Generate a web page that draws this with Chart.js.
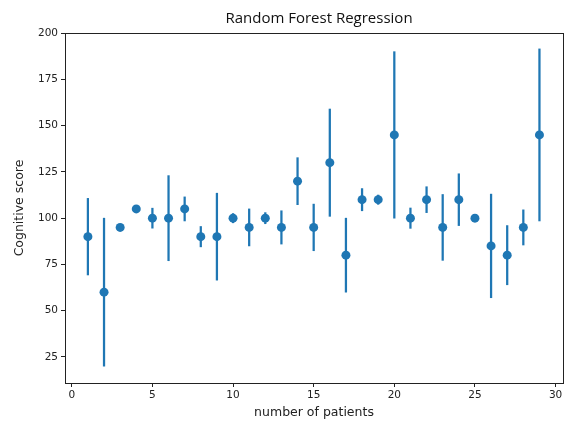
<!DOCTYPE html>
<html>
<head>
<meta charset="utf-8">
<script src="https://cdn.jsdelivr.net/npm/chart.js@4"></script>
<style>
html,body{margin:0;padding:0;background:#fff;}
#wrap{width:568px;height:421px;}
</style>
</head>
<body>
<div id="wrap"><canvas id="c" width="568" height="421"></canvas></div>
<script>
const patients = [1,2,3,4,5,6,7,8,9,10,11,12,13,14,15,16,17,18,19,20,21,22,23,24,25,26,27,28,29];
const scores = [90,60,95,105,100,100,105,90,90,100,95,100,95,120,95,130,80,110,110,145,100,110,95,110,100,85,80,95,145];
const errors = [20.7,40,1,1,5.4,23,6.5,5.5,23.5,2.5,10,3,9,12.7,12.6,29,20,6,2.5,45,5.5,7,17.8,14,0,28,16,9.5,46.5];
const xTicks = [0,5,10,15,20,25,30];
const yTicks = [25,50,75,100,125,150,175,200];
const titleText = 'Random Forest Regression';

const blue = '#1f77b4';
const pointData = patients.map((p,i)=>({x:p, y:scores[i]}));
const errData = patients.map((p,i)=>({x:p, y:[scores[i]-errors[i], scores[i]+errors[i]]}));

const frame = {
  id:'frame',
  afterDatasetsDraw(chart){
    const a = chart.chartArea, ctx = chart.ctx;
    ctx.save();
    ctx.strokeStyle = '#222';
    ctx.lineWidth = 1;
    ctx.strokeRect(Math.round(a.left)+0.5, Math.round(a.top)+0.5, Math.round(a.right-a.left), Math.round(a.bottom-a.top));
    ctx.fillStyle = '#111';
    ctx.font = '15px "Open Sans"';
    ctx.textAlign = 'center';
    ctx.textBaseline = 'middle';
    ctx.fillText(titleText, (a.left + a.right)/2 + 5, 19);
    ctx.restore();
  }
};

new Chart(document.getElementById('c'), {
  type:'bar',
  data:{
    datasets:[
      {type:'scatter', data:pointData, backgroundColor:blue, borderColor:blue, pointRadius:4.5, pointHoverRadius:4.5, borderWidth:0, order:0},
      {type:'bar', data:errData, backgroundColor:blue, borderWidth:0, barThickness:1.6, grouped:false, order:1}
    ]
  },
  plugins:[frame],
  options:{
    responsive:false,
    animation:false,
    devicePixelRatio:1,
    layout:{padding:{left:0,right:5,top:33,bottom:0}},
    plugins:{
      legend:{display:false},
      tooltip:{enabled:false},
      title:{display:false}
    },
    scales:{
      x:{type:'linear', min:-0.42, max:30.46, offset:false,
        afterBuildTicks(s){ s.ticks = xTicks.map(v=>({value:v})); },
        afterFit(s){ s.height = 38; },
        grid:{display:true, drawOnChartArea:false, drawTicks:true, tickLength:4, color:'#222', offset:false},
        border:{display:true, color:'#222'},
        ticks:{color:'#222', font:{family:'DejaVu Sans', size:10.5}, padding:2, maxRotation:0},
        title:{display:true, text:'number of patients', color:'#222', font:{family:'DejaVu Sans', size:12.5, lineHeight:1.2}, padding:{top:0,bottom:1}}
      },
      y:{type:'linear', min:10.9, max:200.1,
        afterBuildTicks(s){ s.ticks = yTicks.map(v=>({value:v})); },
        afterFit(s){ s.width = 65; },
        grid:{display:true, drawOnChartArea:false, drawTicks:true, tickLength:4, color:'#222'},
        border:{display:true, color:'#222'},
        ticks:{color:'#222', font:{family:'DejaVu Sans', size:10.5}, padding:3},
        title:{display:true, text:'Cognitive score', color:'#222', font:{family:'DejaVu Sans', size:12.5, lineHeight:1.2}, padding:{top:12,bottom:0}}
      }
    }
  }
});
</script>
</body>
</html>
